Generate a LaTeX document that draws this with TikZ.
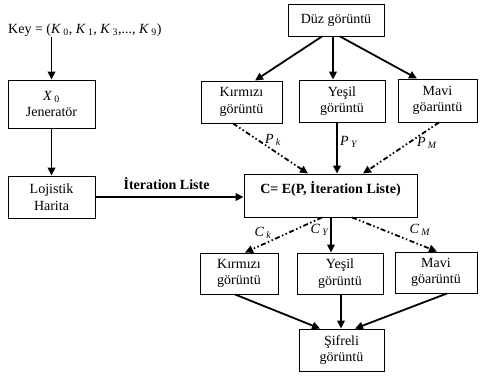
\documentclass[tikz,border=0pt]{standalone}
\usepackage{fontspec}
\setmainfont{Liberation Serif}
\usetikzlibrary{arrows.meta,calc}
\newcommand{\Ksub}[2]{\textit{#1}\,\textsubscript{#2}}
\tikzset{
  box/.style={draw, line width=0.9pt, align=center, inner sep=0pt, font=\fontsize{14}{16.5}\selectfont},
  arr/.style={line width=1.8pt, -{Triangle[length=8pt,width=7.5pt]}},
  dd/.style={arr, dash pattern=on 5pt off 2.5pt on 1.5pt off 2.5pt on 1.5pt off 2.5pt},
  lab/.style={font=\fontsize{14}{16}\selectfont, inner sep=0pt}
}
\begin{document}
\begin{tikzpicture}[x=1pt,y=-1pt]
\useasboundingbox (0,0) rectangle (480,376);
% nodes
\node[lab, anchor=west] (key) at (8,30) {Key = (\Ksub{K}{0}, \Ksub{K}{1}, \Ksub{K}{3},..., \Ksub{K}{9})};
\node[box, minimum width=87pt, minimum height=48pt] (gen) at (51.5,104) {\textit{X}\,\textsubscript{0}\\Jeneratör};
\node[box, minimum width=87pt, minimum height=42pt] (loj) at (51.5,197) {Lojistik\\Harita};
\node[box, minimum width=96pt, minimum height=32pt] (duz) at (336,20) {Düz görüntü};
\node[box, minimum width=81pt, minimum height=42pt] (kt) at (241.5,102) {Kırmızı\\görüntü};
\node[box, minimum width=86pt, minimum height=42pt] (yt) at (342,101) {Yeşil\\görüntü};
\node[box, minimum width=79pt, minimum height=43pt] (mt) at (437.5,100.5) {Mavi\\göarüntü};
\node[box, minimum width=173pt, text height=19pt, text depth=24pt, font=\fontsize{14}{16.5}\selectfont\bfseries] (C) at (330.5,195.5) {C= E(P, İteration Liste)};
\node[box, minimum width=78pt, minimum height=41pt] (kb) at (239,273.5) {Kırmızı\\görüntü};
\node[box, minimum width=86pt, minimum height=41pt] (yb) at (340,273.5) {Yeşil\\görüntü};
\node[box, minimum width=82pt, minimum height=41pt] (mb) at (436,272.5) {Mavi\\göarüntü};
\node[box, minimum width=85pt, minimum height=42pt] (sif) at (341.5,350) {Şifreli\\görüntü};
% left chain
\draw[arr] (key.south -| gen.north) -- (gen.north);
\draw[arr] (gen.south) -- (loj.north);
\draw[arr] (loj.east) -- (loj.east -| C.west)
  node[pos=0.48, above=6pt, font=\fontsize{14}{16}\selectfont\bfseries, inner sep=0pt] (itl) {İteration Liste};
% top split
\draw[arr] ([xshift=-14pt]duz.south) -- ([xshift=13.5pt]kt.north);
\draw[arr] ([xshift=-3pt]duz.south) -- ([xshift=-3pt]duz.south |- yt.north);
\draw[arr] ([xshift=4pt]duz.south) -- ([xshift=-20.5pt]mt.north);
% into C
\draw[dd] ([xshift=-8.5pt]kt.south) -- ([xshift=-22.5pt]C.north);
\draw[arr] ([xshift=-5pt]yt.south) -- ([xshift=-5pt]yt.south |- C.north);
\draw[dd] ([xshift=1.5pt]mt.south) -- ([xshift=32.5pt]C.north);
% out of C
\draw[dd] ([xshift=-8.5pt]C.south) -- ([xshift=6pt]kb.north);
\draw[arr] ([xshift=0.5pt]C.south) -- ([xshift=0.5pt]C.south |- yb.north);
\draw[dd] ([xshift=21.5pt]C.south) -- ([xshift=1pt]mb.north);
% into Sifreli
\draw[arr] ([xshift=-4pt]kb.south) -- ([xshift=-21.5pt]sif.north);
\draw[arr] ([xshift=1pt]yb.south) -- ([xshift=1pt]yb.south |- sif.north);
\draw[arr] ([xshift=11pt]mb.south) -- ([xshift=13.5pt]sif.north);
% labels
\node[lab] (pk) at (273,140) {\Ksub{P}{\textit{k}}};
\node[lab] (py) at (349,142) {\Ksub{P}{\textit{Y}}};
\node[lab] (pm) at (427,143) {\Ksub{P}{\textit{M}}};
\node[lab] (ck) at (263,233) {\Ksub{C}{\textit{k}}};
\node[lab] (cy) at (320,230) {\Ksub{C}{\textit{Y}}};
\node[lab] (cm) at (420,230) {\Ksub{C}{\textit{M}}};
\end{tikzpicture}
\end{document}
